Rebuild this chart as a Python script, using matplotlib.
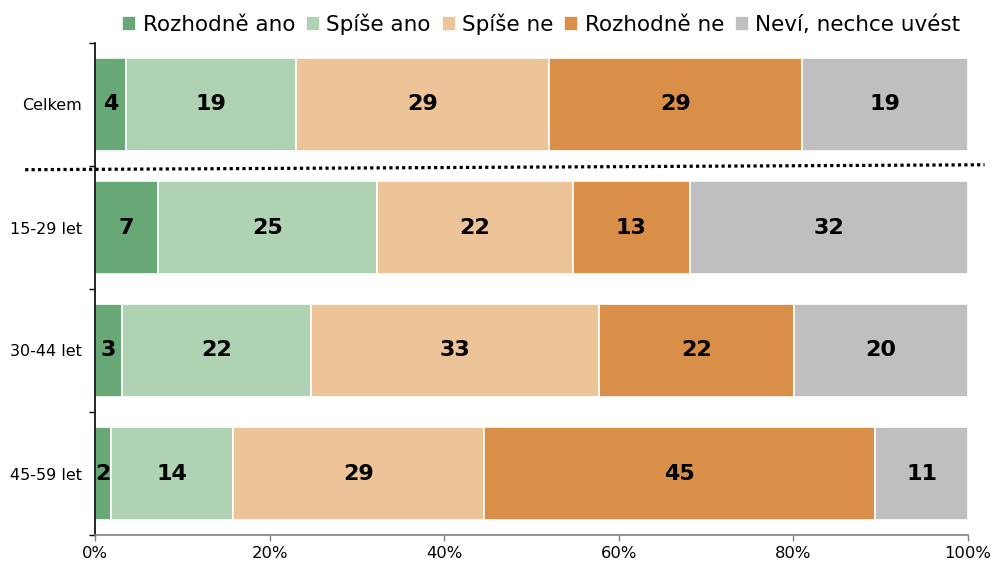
import matplotlib
matplotlib.use("Agg")
import matplotlib.pyplot as plt
import matplotlib.transforms as mtransforms
from matplotlib.ticker import FixedLocator, PercentFormatter

categories = ["Celkem", "15-29 let", "30-44 let", "45-59 let"]
series_names = ["Rozhodně ano", "Spíše ano", "Spíše ne", "Rozhodně ne", "Neví, nechce uvést"]
rozhodne_ano = [3.55, 7.2, 3.1, 1.8]
spise_ano = [19.45, 25.1, 21.6, 14.0]
spise_ne = [29.0, 22.4, 33.0, 28.8]
rozhodne_ne = [29.0, 13.4, 22.4, 44.8]
nevi = [19.0, 31.9, 19.9, 10.6]
colors = ["#67A876", "#AFD2B3", "#ECC497", "#D98F48", "#BFBFBF"]
x_ticks = [0, 20, 40, 60, 80, 100]

plt.rcParams['font.family'] = ['DejaVu Sans']
fig = plt.figure(figsize=(9.93, 5.67), dpi=100)
ax = fig.add_axes([95/993, 1-535/567, 873/993, 492/567])

series = [rozhodne_ano, spise_ano, spise_ne, rozhodne_ne, nevi]
ypos = list(range(len(categories)))
left = [0.0]*len(categories)
for name, vals, col in zip(series_names, series, colors):
    ax.barh(ypos, vals, left=left, height=0.76, color=col, edgecolor="white",
            linewidth=1.2, label=name)
    for y, l, v in zip(ypos, left, vals):
        ax.text(l + v/2, y, f"{v:.0f}", ha="center", va="center", fontsize=16,
                fontweight="bold", color="black")
    left = [a+b for a, b in zip(left, vals)]

ax.set_xlim(0, 100)
ax.set_ylim(len(categories)-0.5, -0.5)
ax.set_yticks(ypos)
ax.set_yticklabels(categories, fontsize=11.5)
ax.yaxis.set_minor_locator(FixedLocator([i-0.5 for i in range(len(categories)+1)]))
ax.tick_params(axis="y", which="major", length=0, pad=9.5)
ax.tick_params(axis="y", which="minor", length=4, width=1, color="black")
ax.set_xticks(x_ticks)
ax.xaxis.set_major_formatter(PercentFormatter(decimals=0))
ax.tick_params(axis="x", length=4, width=1, color="#808080", labelsize=11.8, pad=4)

for s in ["top", "right"]:
    ax.spines[s].set_visible(False)
ax.spines["left"].set_color("black")
ax.spines["left"].set_linewidth(1.2)
ax.spines["bottom"].set_color("#808080")
ax.spines["bottom"].set_linewidth(1.2)

trans = mtransforms.blended_transform_factory(ax.transAxes, ax.transData)
ax.plot([-0.080, 1.019], [0.53, 0.49], transform=trans, color="black",
        linestyle=(0, (1, 1)), linewidth=2.3, clip_on=False, zorder=5)

ax.legend(loc="lower right", bbox_to_anchor=(1.0, 1.0), ncol=5, frameon=False,
          fontsize=15.5, handlelength=0.65, handleheight=0.7, handletextpad=0.3,
          columnspacing=0.5, borderaxespad=0.25, borderpad=0.1)

fig.savefig("out.png", dpi=100)
